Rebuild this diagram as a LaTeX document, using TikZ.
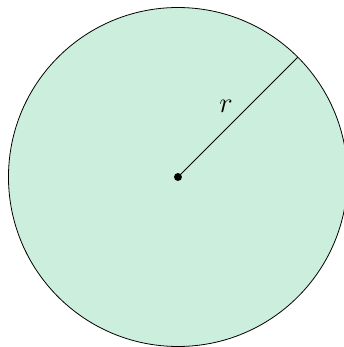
\documentclass[tikz,border=0pt]{standalone}
\usepackage{tikz}
\usetikzlibrary{calc}
\definecolor{mint}{RGB}{204,238,220}
\tikzstyle{dot}=[circle,fill=black, minimum size = 4pt, inner sep=0pt]

\begin{document}
\begin{tikzpicture}
        \useasboundingbox (-3.150,-3.009) rectangle (2.938,3.133);
            \draw [fill=mint] (0,0) circle (3);
            \node [dot] (o) at (0,0) {};
            \coordinate (p) at (45:3);
            \draw (o.center) -- node [above left=-1pt] {\Large$r$} (p);
        \end{tikzpicture}
\end{document}
